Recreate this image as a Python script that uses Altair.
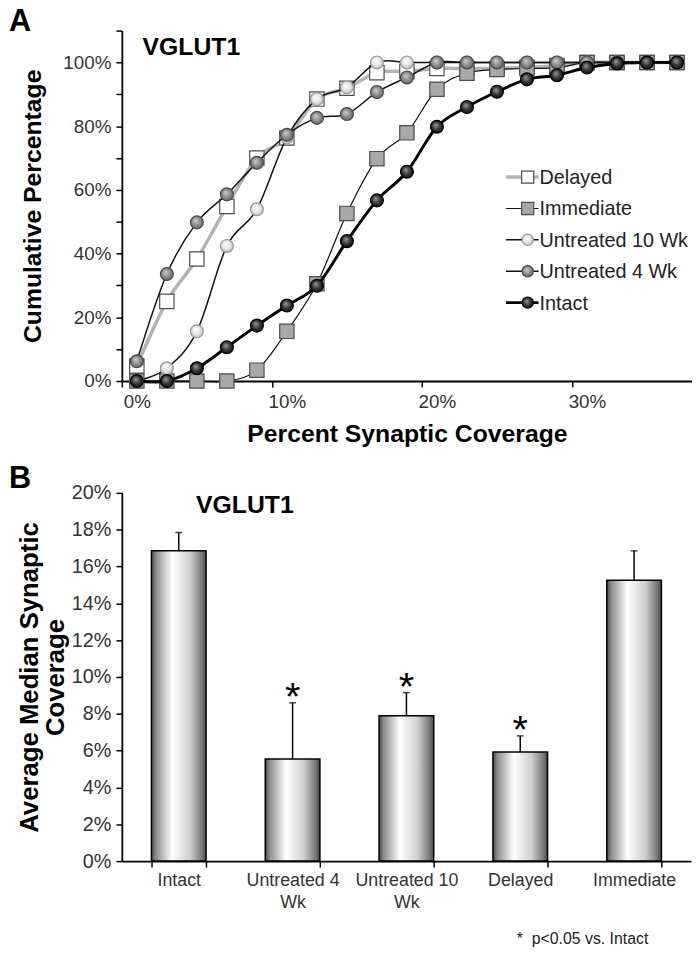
import altair as alt
import pandas as pd

# ---------------- Panel A data (cumulative distributions) ----------------
coverage_pct = [0, 2, 4, 6, 8, 10, 12, 14, 16, 18, 20, 22, 24, 26, 28, 30, 32, 34, 36]
series_names = ["Delayed", "Immediate", "Untreated 10 Wk", "Untreated 4 Wk", "Intact"]
delayed = [4.7, 25.0, 38.3, 54.8, 70.0, 76.3, 88.5, 91.9, 96.8, 97.2, 98.1, 98.1, 98.1, 98.5, 99.0, 100, 100, 100, 100]
immediate = [0, 0, 0, 0, 3.4, 15.6, 30.5, 52.6, 69.8, 77.9, 91.6, 96.6, 97.8, 98.1, 98.4, 100, 100, 100, 100]
untreated_10wk = [0, 4.0, 15.6, 42.4, 53.9, 76.5, 88.5, 92.2, 100, 100, 100, 100, 100, 100, 100, 100, 100, 100, 100]
untreated_4wk = [6.2, 33.6, 49.8, 58.6, 68.5, 77.3, 82.6, 83.8, 90.7, 95.3, 100, 100, 100, 100, 100, 100, 100, 100, 100]
intact = [0, 0, 4.0, 10.6, 17.4, 23.7, 29.9, 43.9, 56.7, 65.7, 79.8, 86.0, 90.8, 94.7, 96.0, 98.4, 99.7, 100, 100]

# ---------------- Panel B data (bar chart) ----------------
groups = ["Intact", "Untreated 4 Wk", "Untreated 10 Wk", "Delayed", "Immediate"]
median_cov = [16.85, 5.54, 7.9, 5.93, 15.25]
sem = [1.0, 3.06, 1.25, 0.87, 1.6]
significant = [False, True, True, True, False]

FONT = "Liberation Sans"
WA, HA = 576, 354
WB, HB = 575, 372

rows = []
for name, vals in zip(series_names, [delayed, immediate, untreated_10wk, untreated_4wk, intact]):
    for x, v in zip(coverage_pct, vals):
        rows.append({"series": name, "coverage": x, "cum": v})
dfA = pd.DataFrame(rows)


def radial(c0, c1, c2):
    return alt.RadialGradient(
        gradient="radial",
        stops=[alt.GradientStop(color=c0, offset=0), alt.GradientStop(color=c1, offset=0.55),
               alt.GradientStop(color=c2, offset=1)],
        x1=0.4, y1=0.35, r1=0, x2=0.5, y2=0.5, r2=0.6)


styles = {
    "Delayed": dict(lc="#b3b3b3", lw=3.5, shape="square", size=210, fill="#ffffff", stroke="#4d4d4d"),
    "Immediate": dict(lc="#111111", lw=1.2, shape="square", size=210, fill="#a8a8a8", stroke="#4d4d4d"),
    "Untreated 10 Wk": dict(lc="#111111", lw=1.5, shape="circle", size=170,
                            fill=radial("#ffffff", "#e4e4e4", "#a5a5a5"), stroke="#9a9a9a"),
    "Untreated 4 Wk": dict(lc="#111111", lw=1.5, shape="circle", size=170,
                           fill=radial("#cfcfcf", "#8a8a8a", "#5a5a5a"), stroke="#4a4a4a"),
    "Intact": dict(lc="#000000", lw=3.0, shape="circle", size=170,
                   fill=radial("#9a9a9a", "#333333", "#050505"), stroke="#000000"),
}

xA = alt.X("coverage:Q", scale=alt.Scale(domain=[-1, 37], nice=False, zero=False),
           axis=alt.Axis(values=[-1, 9, 19, 29], labelExpr="(datum.value + 1) + '%'",
                         labelOffset=WA / 38, labelFlush=False, labelOverlap=False,
                         title="Percent Synaptic Coverage", titleFontSize=25, titleFontWeight="bold",
                         titlePadding=10, labelFontSize=19, labelColor="#333333", labelPadding=6,
                         tickSize=6, tickColor="black", tickWidth=1.5, domainColor="black",
                         domainWidth=1.8, grid=False))
yA = alt.Y("cum:Q", scale=alt.Scale(domain=[0, 110], nice=False),
           axis=alt.Axis(values=list(range(0, 111, 10)),
                         labelExpr="datum.value % 20 == 0 && datum.value <= 100 ? datum.value + '%' : ''",
                         labelOverlap=False,
                         title="Cumulative Percentage", titleFontSize=25, titleFontWeight="bold",
                         titleX=-90, titleY=HA / 2, titleAngle=270, titleBaseline="middle",
                         titleAlign="center", labelFontSize=19, labelColor="#333333", labelPadding=5,
                         tickSize=6, tickColor="black", tickWidth=1.5, domainColor="black",
                         domainWidth=1.8, grid=False))

layersA = []
for name in series_names:
    st = styles[name]
    base = alt.Chart(dfA).transform_filter(alt.datum.series == name)
    layersA.append(base.mark_line(color=st["lc"], strokeWidth=st["lw"], interpolate="cardinal")
                   .encode(x=xA, y=yA))
    layersA.append(base.mark_point(shape=st["shape"], filled=True, fill=st["fill"], stroke=st["stroke"],
                                   strokeWidth=1.2, size=st["size"], opacity=1)
                   .encode(x=xA, y=yA))

# manual legend (pixel layout)
leg_y0, leg_dy = 148, 31.7
for i, name in enumerate(series_names):
    st = styles[name]
    ldf = pd.DataFrame({"series": [name]})
    yv = leg_y0 + i * leg_dy
    layersA.append(alt.Chart(ldf).mark_rule(color=st["lc"], strokeWidth=st["lw"])
                   .encode(x=alt.value(388), x2=alt.value(421), y=alt.value(yv)))
    layersA.append(alt.Chart(ldf).mark_point(shape=st["shape"], filled=True, fill=st["fill"],
                                             stroke=st["stroke"], strokeWidth=1.2,
                                             size=150 if st["shape"] == "square" else 130, opacity=1)
                   .encode(x=alt.value(410), y=alt.value(yv)))
    layersA.append(alt.Chart(ldf).mark_text(align="left", baseline="middle", fontSize=20, color="#222222")
                   .encode(x=alt.value(422), y=alt.value(yv + 1), text="series:N"))

layersA.append(alt.Chart(pd.DataFrame({"t": ["VGLUT1"]})).mark_text(
    align="left", baseline="alphabetic", fontSize=25, fontWeight="bold", color="black")
    .encode(x=alt.value(21), y=alt.value(25), text="t:N"))
layersA.append(alt.Chart(pd.DataFrame({"t": ["A"]})).mark_text(
    align="left", baseline="alphabetic", fontSize=31, fontWeight="bold", color="black")
    .encode(x=alt.value(-114), y=alt.value(0), text="t:N"))

chartA = alt.layer(*layersA).properties(width=WA, height=HA)

# ---------------- Panel B ----------------
dfB = pd.DataFrame({"group": groups, "mean": median_cov, "err": sem, "sig": significant})

bar_grad = alt.LinearGradient(
    gradient="linear",
    stops=[alt.GradientStop(color="#4a4a4a", offset=0), alt.GradientStop(color="#8c8c8c", offset=0.08),
           alt.GradientStop(color="#ffffff", offset=0.38), alt.GradientStop(color="#d0d0d0", offset=0.7),
           alt.GradientStop(color="#7a7a7a", offset=0.92), alt.GradientStop(color="#4a4a4a", offset=1)],
    x1=0, x2=1, y1=0, y2=0)

lbl_expr = ("datum.value == 'Untreated 4 Wk' ? ['Untreated 4', 'Wk'] : "
            "datum.value == 'Untreated 10 Wk' ? ['Untreated 10', 'Wk'] : datum.value")
xB = alt.X("group:N", sort=groups, scale=alt.Scale(paddingInner=0.52, paddingOuter=0.26),
           axis=alt.Axis(title=None, labelAngle=0, tickBand="extent", labelExpr=lbl_expr,
                         labelLineHeight=22, labelFontSize=18, labelColor="#333333", labelPadding=5,
                         labelBaseline="top", tickSize=6, tickColor="black", tickWidth=1.5,
                         domainColor="black", domainWidth=1.8))
scaleB = alt.Scale(domain=[0, 20], nice=False)
axisB = alt.Axis(values=list(range(0, 21, 2)), labelExpr="datum.value + '%'",
                 labelOverlap=False,
                 title=["Average Median Synaptic", "Coverage"], titleFontSize=26,
                 titleFontWeight="bold", titleLineHeight=26, titleX=-93, titleY=HB / 2,
                 titleAngle=270, titleBaseline="middle", titleAlign="center",
                 labelFontSize=20, labelColor="#333333", labelPadding=5, tickSize=6,
                 tickColor="black", tickWidth=1.5, domainColor="black", domainWidth=1.8,
                 grid=False)
yB = alt.Y("mean:Q", scale=scaleB, axis=axisB)
yUpper = alt.Y("upper:Q", scale=scaleB, axis=axisB)

baseB = alt.Chart(dfB).transform_calculate(upper="datum.mean + datum.err")
bars = baseB.mark_bar(fill=bar_grad, stroke="black", strokeWidth=1.5).encode(x=xB, y=yB)
errs = baseB.mark_rule(color="black", strokeWidth=1.5).encode(x=xB, y=yB, y2="upper:Q")
caps = baseB.mark_tick(color="black", thickness=1.5, size=7).encode(x=xB, y=yUpper)
stars = baseB.transform_filter("datum.sig").mark_text(
    text="*", fontSize=40, baseline="alphabetic", align="center", dy=7, color="black"
).encode(x=xB, y=yUpper)
vglutB = alt.Chart(pd.DataFrame({"t": ["VGLUT1"]})).mark_text(
    align="left", baseline="alphabetic", fontSize=25, fontWeight="bold", color="black"
).encode(x=alt.value(75), y=alt.value(20), text="t:N")
letterB = alt.Chart(pd.DataFrame({"t": ["B"]})).mark_text(
    align="left", baseline="alphabetic", fontSize=31, fontWeight="bold", color="black"
).encode(x=alt.value(-114), y=alt.value(-5), text="t:N")
foot = alt.Chart(pd.DataFrame({"t": ["*\u00a0\u00a0p<0.05 vs. Intact"]})).mark_text(
    align="left", baseline="alphabetic", fontSize=16, color="#222222"
).encode(x=alt.value(399), y=alt.value(456), text="t:N")

chartB = alt.layer(bars, errs, caps, stars, vglutB, letterB, foot).properties(width=WB, height=HB)

chart = alt.vconcat(chartA, chartB, spacing=17).properties(
    padding={"left": 1, "top": -7, "right": 0, "bottom": 0}
).configure(font=FONT).configure_view(stroke=None)

chart.save("out.html", embed_options={"renderer": "svg", "actions": False})
